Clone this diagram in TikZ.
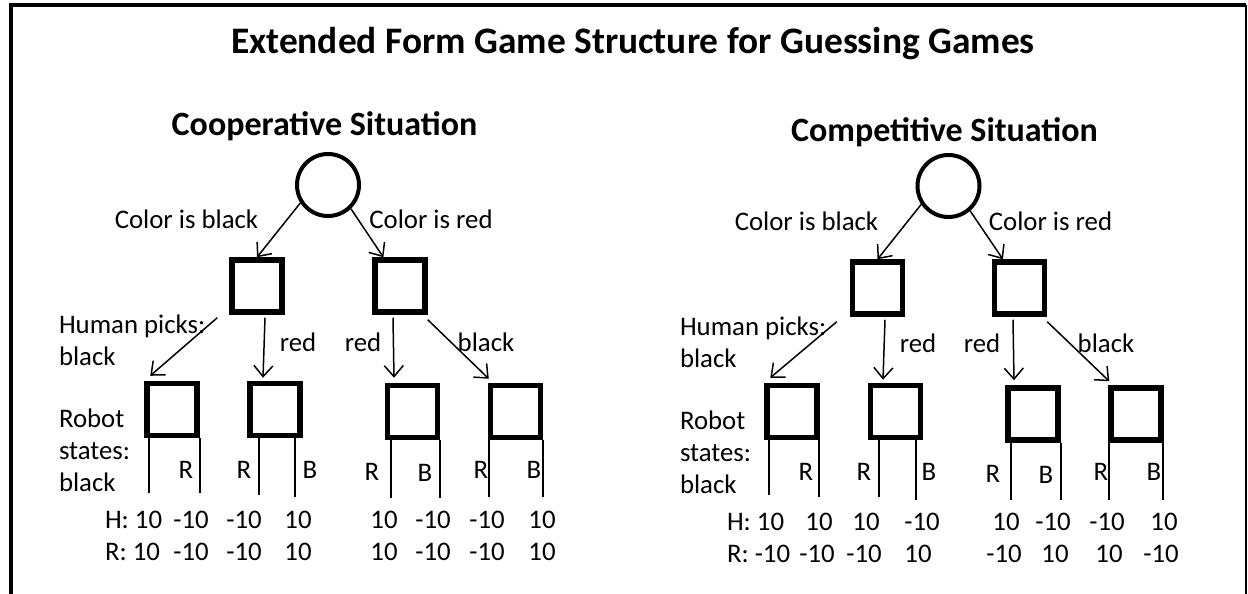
\documentclass[tikz,border=0pt]{standalone}
\usepackage{fontspec}
\setmainfont{Carlito}
\usepackage{tikz}
\usetikzlibrary{arrows.meta}

\begin{document}
\begin{tikzpicture}[x=1pt, y=-1pt,
  every node/.style={outer sep=0pt, inner sep=0pt, font=\fontsize{26.8}{32}\selectfont},
  box/.style={draw, line width=5.5pt, outer sep=2.75pt, minimum width=50pt, minimum height=52pt},
  chance/.style={draw, circle, line width=4pt, outer sep=2pt, minimum size=62pt},
  move/.style={-{Straight Barb[length=11pt,width=19pt]}, line width=1.5pt},
  leaf/.style={line width=2pt},
  heading/.style={font=\bfseries\fontsize{34}{40}\selectfont}]
\useasboundingbox (0,0) rectangle (1248,594);
\draw[line width=4pt] (11,594) -- (11,5) -- (1246,5);
\draw[line width=2pt] (1246,5) -- (1246,594);

\node[font=\bfseries\fontsize{37.4}{44}\selectfont, anchor=base] (title) at (633,54) {Extended Form Game Structure for Guessing Games};
\node[heading, anchor=base] (coop) at (324.5,135) {Cooperative Situation};
\node[heading, anchor=base] (comp) at (944.5,141) {Competitive Situation};

% cooperative tree
\node[chance] (rootL) at (328,185) {};
\node[box] (b1) at (257,286) {};
\node[box] (b2) at (400,286) {};
\node[box] (c1) at (172,409.5) {};
\node[box] (c2) at (275,409.5) {};
\node[box] (c3) at (412.5,411.5) {};
\node[box] (c4) at (515.5,411.5) {};

\draw[move] (rootL.213) -- (b1.north);
\draw[move] (rootL.314) -- (b2.120);
\draw[move] ([xshift=-12pt,yshift=-3pt]b1.south west) -- ([xshift=6pt,yshift=5pt]c1.north west);
\draw[move] ([xshift=8pt,yshift=-3pt]b1.south) -- ([xshift=-12pt,yshift=3pt]c2.north);
\draw[move] ([xshift=-7pt,yshift=-3pt]b2.south) -- ([xshift=-18.5pt,yshift=5pt]c3.north);
\draw[move] ([yshift=-5pt]b2.south east) -- ([xshift=1pt,yshift=4pt]c4.north west);

\node (cbL) at (186.5,219) {Color is black};
\node (crL) at (431,219) {Color is red};
\node[align=left, anchor=north west] (hpL) at (59,315) {Human picks:\\black};
\node (r1L) at (298,342) {red};
\node (r2L) at (363,342) {red};
\node (k2L) at (486,342) {black};
\node[align=left, anchor=north west] (rsL) at (59,409) {Robot\\states:\\black};

\coordinate (c1l) at (149,493); \coordinate (c1r) at (200,493);
\coordinate (c2l) at (259,495); \coordinate (c2r) at (295,497);
\coordinate (c3l) at (391,498); \coordinate (c3r) at (440,498);
\coordinate (c4l) at (489,497); \coordinate (c4r) at (543,497);
\draw[leaf] (c1l |- c1.south) -- (c1l);
\draw[leaf] (c1r |- c1.south) -- (c1r);
\draw[leaf] (c2l |- c2.south) -- (c2l);
\draw[leaf] (c2r |- c2.south) -- (c2r);
\draw[leaf] (c3l |- c3.south) -- (c3l);
\draw[leaf] (c3r |- c3.south) -- (c3r);
\draw[leaf] (c4l |- c4.south) -- (c4l);
\draw[leaf] (c4r |- c4.south) -- (c4r);

\node (c1R) at (186,470) {R};
\node (c2R) at (244,470) {R};
\node (c2B) at (310,470) {B};
\node (c3R) at (372,472) {R};
\node (c3B) at (425,473) {B};
\node (c4R) at (481,470) {R};
\node (c4B) at (534,470) {B};

\node[anchor=west] (hL) at (105,520) {H: 10};
\node (hL2) at (191,520) {-10};
\node (hL3) at (244,520) {-10};
\node (hL4) at (298,520) {10};
\node (hL5) at (384,520) {10};
\node (hL6) at (433,520) {-10};
\node (hL7) at (487,520) {-10};
\node (hL8) at (542,520) {10};
\node[anchor=west] (pL) at (105,552) {R: 10};
\node (pL2) at (191,552) {-10};
\node (pL3) at (244,552) {-10};
\node (pL4) at (298,552) {10};
\node (pL5) at (384,552) {10};
\node (pL6) at (433,552) {-10};
\node (pL7) at (487,552) {-10};
\node (pL8) at (542,552) {10};

% competitive tree
\node[chance] (rootR) at (948.5,186) {};
\node[box] (d1) at (877.5,288) {};
\node[box] (d2) at (1019.5,288) {};
\node[box] (e1) at (792,411.5) {};
\node[box] (e2) at (895.5,411.5) {};
\node[box] (e3) at (1033,414) {};
\node[box] (e4) at (1136,414) {};

\draw[move] (rootR.214) -- (d1.north);
\draw[move] (rootR.311) -- (d2.120);
\draw[move] ([xshift=-13pt,yshift=-5pt]d1.south west) -- ([xshift=6pt,yshift=5pt]e1.north west);
\draw[move] ([xshift=7.5pt,yshift=-3pt]d1.south) -- ([xshift=-12.5pt,yshift=3pt]e2.north);
\draw[move] ([xshift=-6.5pt,yshift=-3pt]d2.south) -- ([xshift=-19pt,yshift=5pt]e3.north);
\draw[move] ([yshift=-5pt]d2.south east) -- ([xshift=1pt,yshift=4pt]e4.north west);

\node (cbR) at (806.5,221) {Color is black};
\node (crR) at (1050.5,221) {Color is red};
\node[align=left, anchor=north west] (hpR) at (680,317) {Human picks:\\black};
\node (r1R) at (918,343) {red};
\node (r2R) at (982,343) {red};
\node (k2R) at (1106,343) {black};
\node[align=left, anchor=north west] (rsR) at (680,411) {Robot\\states:\\black};

\coordinate (e1l) at (769,495); \coordinate (e1r) at (819,497);
\coordinate (e2l) at (879,497); \coordinate (e2r) at (916,500);
\coordinate (e3l) at (1011,500); \coordinate (e3r) at (1061,500);
\coordinate (e4l) at (1109,500); \coordinate (e4r) at (1163,500);
\draw[leaf] (e1l |- e1.south) -- (e1l);
\draw[leaf] (e1r |- e1.south) -- (e1r);
\draw[leaf] (e2l |- e2.south) -- (e2l);
\draw[leaf] (e2r |- e2.south) -- (e2r);
\draw[leaf] (e3l |- e3.south) -- (e3l);
\draw[leaf] (e3r |- e3.south) -- (e3r);
\draw[leaf] (e4l |- e4.south) -- (e4l);
\draw[leaf] (e4r |- e4.south) -- (e4r);

\node (e1R) at (806,472) {R};
\node (e2R) at (864,472) {R};
\node (e2B) at (929,472) {B};
\node (e3R) at (993,474) {R};
\node (e3B) at (1046,475) {B};
\node (e4R) at (1101,472) {R};
\node (e4B) at (1154,472) {B};

\node[anchor=west] (hR) at (727,522) {H: 10};
\node (hR2) at (819,522) {10};
\node (hR3) at (866,522) {10};
\node (hR4) at (922,522) {-10};
\node (hR5) at (1006,522) {10};
\node (hR6) at (1053,522) {-10};
\node (hR7) at (1107,522) {-10};
\node (hR8) at (1164,522) {10};
\node[anchor=west] (pR) at (727,554) {R: -10};
\node (pR2) at (817,554) {-10};
\node (pR3) at (864,554) {-10};
\node (pR4) at (918,554) {10};
\node (pR5) at (1004,554) {-10};
\node (pR6) at (1055,554) {10};
\node (pR7) at (1109,554) {10};
\node (pR8) at (1161,554) {-10};
\end{tikzpicture}
\end{document}
